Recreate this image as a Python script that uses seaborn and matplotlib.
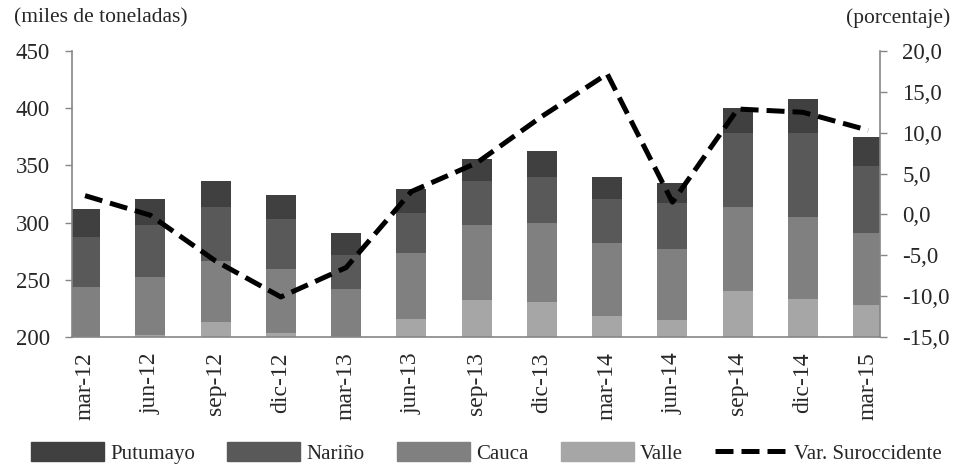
import numpy as np
import pandas as pd
import matplotlib
matplotlib.use("Agg")
import matplotlib.pyplot as plt
from matplotlib.patches import Patch
from matplotlib.lines import Line2D
import seaborn as sns

# Production by department (thousand tonnes) and quarterly variation (%)
periodos = ['mar-12', 'jun-12', 'sep-12', 'dic-12', 'mar-13', 'jun-13', 'sep-13',
            'dic-13', 'mar-14', 'jun-14', 'sep-14', 'dic-14', 'mar-15']
valle = [198, 202, 212.8, 203.8, 198, 216, 232, 230.2, 218, 214.5, 240.4, 233.4, 228.2]
cauca = [46, 50.7, 53.8, 55.8, 44.2, 57.8, 66, 69.6, 64.4, 62.5, 73.4, 71.6, 62.8]
narino = [43.6, 45.3, 47.2, 43.4, 29.8, 34.5, 38.5, 40.2, 38.4, 40, 64.2, 73, 58.9]
putumayo = [23.9, 22.5, 22.2, 21, 18.8, 21, 19, 22.5, 18.9, 17.5, 22.5, 30, 24.8]
var_suroccidente = [2.3, -0.1, -5.7, -10.1, -6.5, 2.8, 6.3, 12.0, 17.2, 1.5, 12.9, 12.5, 10.3]

df = pd.DataFrame({'periodo': periodos, 'Valle': valle, 'Cauca': cauca,
                   'Nariño': narino, 'Putumayo': putumayo})
# cumulative sums for stacking
df['c_valle'] = df['Valle']
df['c_cauca'] = df['c_valle'] + df['Cauca']
df['c_narino'] = df['c_cauca'] + df['Nariño']
df['c_putumayo'] = df['c_narino'] + df['Putumayo']

sns.set_style("white")
plt.rcParams['font.family'] = ['Liberation Serif', 'DejaVu Serif']

colores = {'Putumayo': '#404040', 'Nariño': '#595959', 'Cauca': '#808080', 'Valle': '#a6a6a6'}
gris = '#868686'

fig = plt.figure(figsize=(9.54, 4.66), dpi=100)
ax = fig.add_axes([72 / 954, 1 - 337 / 466, (880 - 72) / 954, (337 - 51) / 466])

# tallest first, then the lower ones drawn on top
for col, name in [('c_putumayo', 'Putumayo'), ('c_narino', 'Nariño'),
                  ('c_cauca', 'Cauca'), ('c_valle', 'Valle')]:
    sns.barplot(data=df, x='periodo', y=col, color=colores[name], width=0.46,
                saturation=1, linewidth=0, ax=ax)

ax2 = ax.twinx()
x_pos = np.arange(len(periodos))
sns.lineplot(x=x_pos, y=var_suroccidente, ax=ax2, color='black', linewidth=3.6)
for ln in ax2.get_lines():
    ln.set_linestyle((0, (3.6, 1.6)))
    ln.set_dash_capstyle('butt')

ax.set_xlim(-0.2, 12.18)
ax.set_ylim(200, 450)
ax2.set_ylim(-15, 20)

ax.set_yticks(np.arange(200, 451, 50))
ax.set_yticklabels([str(v) for v in range(200, 451, 50)], fontsize=16.5)
rticks = np.arange(-15, 21, 5)
ax2.set_yticks(rticks)
ax2.set_yticklabels([f"{v:.1f}".replace('.', ',') for v in rticks], fontsize=16.5)

ax.set_xticks(x_pos)
ax.set_xticklabels(periodos, rotation=90, fontsize=17)
ax.set_xticks([-0.2 + 1.005 * j for j in range(13)], minor=True)
ax.tick_params(axis='x', which='major', length=0, pad=11)
ax.tick_params(axis='x', which='minor', length=5, width=1, color=gris, direction='out')
ax.tick_params(axis='y', length=5, width=1, color=gris, direction='out', pad=11, left=True)
ax2.tick_params(axis='y', length=5, width=1, color=gris, direction='out', pad=11, right=True)

ax.set_xlabel('')
ax.set_ylabel('')
ax2.set_ylabel('')

for a in (ax, ax2):
    a.spines['top'].set_visible(False)
    for s in ('left', 'right', 'bottom'):
        a.spines[s].set_color(gris)
        a.spines[s].set_linewidth(1.2)
ax.spines['right'].set_visible(False)
ax2.spines['left'].set_visible(False)
ax2.spines['bottom'].set_visible(False)

fig.text(14 / 954, 1 - 18 / 466, '(miles de toneladas)', fontsize=15.5, va='center', ha='left')
fig.text(950 / 954, 1 - 18 / 466, '(porcentaje)', fontsize=15.5, va='center', ha='right')

handles = [Patch(color=colores['Putumayo']), Patch(color=colores['Nariño']),
           Patch(color=colores['Cauca']), Patch(color=colores['Valle']),
           Line2D([], [], color='black', linewidth=3.6, linestyle=(0, (3.6, 1.6)))]
labels = ['Putumayo', 'Nariño', 'Cauca', 'Valle', 'Var. Suroccidente']
fig.legend(handles, labels, loc='center', bbox_to_anchor=(0.51, 1 - 453 / 466), ncol=5,
           frameon=False, fontsize=15, handlelength=3.5, handleheight=1.0,
           handletextpad=0.3, columnspacing=1.55, borderaxespad=0)

plt.savefig('out.png', dpi=100)
